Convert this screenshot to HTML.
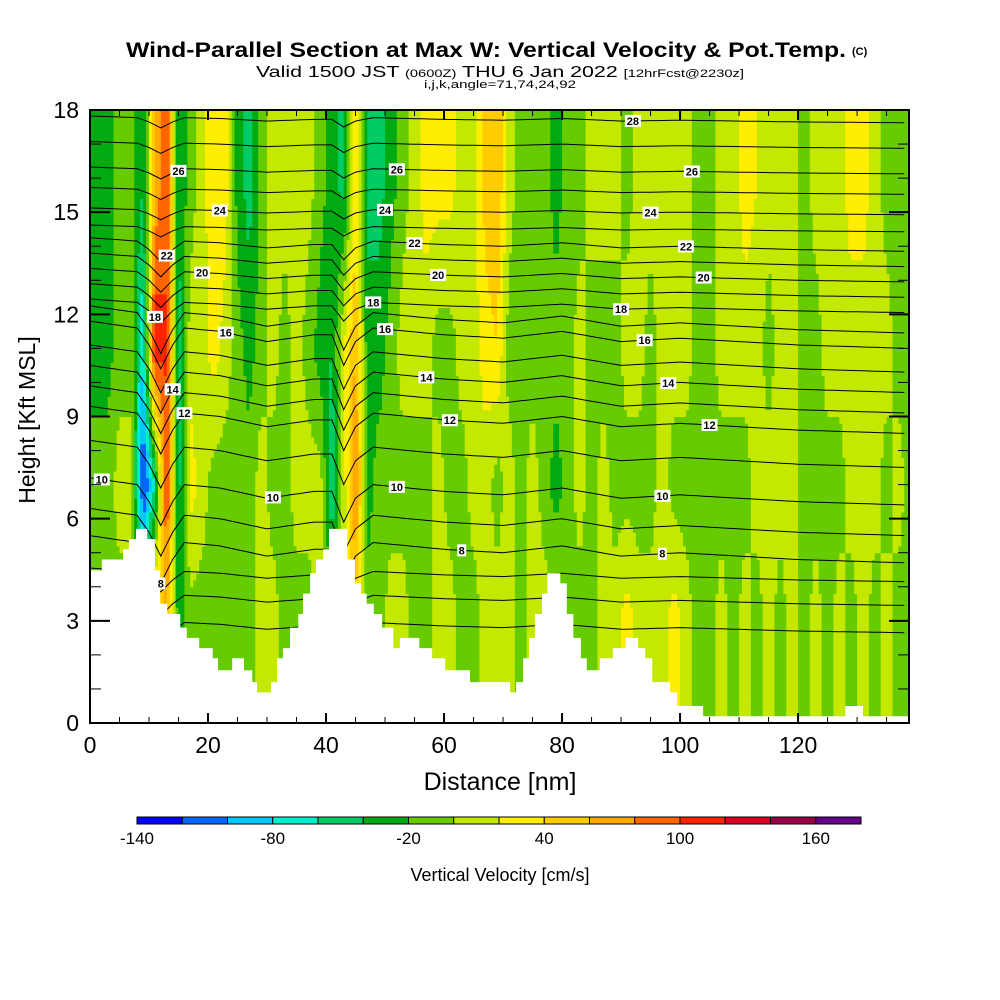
<!DOCTYPE html>
<html><head><meta charset="utf-8"><style>
html,body{margin:0;padding:0;background:#fff;}
svg{display:block;font-family:"Liberation Sans",sans-serif;}
</style></head><body>
<svg id="chart" width="1000" height="1000" viewBox="0 0 1000 1000" xmlns="http://www.w3.org/2000/svg">
<defs><clipPath id="plotclip"><rect x="90" y="110" width="819" height="613"/></clipPath></defs>
<text x="126" y="57" font-size="21" font-weight="bold" textLength="720" lengthAdjust="spacingAndGlyphs">Wind-Parallel Section at Max W: Vertical Velocity &amp; Pot.Temp.</text>
<text x="852" y="55" font-size="11" font-weight="bold">(C)</text>
<text x="256" y="77" font-size="16" textLength="488" lengthAdjust="spacingAndGlyphs">Valid 1500 JST <tspan font-size="11">(0600Z)</tspan> THU 6 Jan 2022 <tspan font-size="11">[12hrFcst@2230z]</tspan></text>
<text x="500" y="88" font-size="11" text-anchor="middle" textLength="152" lengthAdjust="spacingAndGlyphs">i,j,k,angle=71,74,24,92</text>
<g id="field" clip-path="url(#plotclip)"></g>
<g id="contours" clip-path="url(#plotclip)"></g>
<g id="terrain"></g>
<g id="labels" clip-path="url(#plotclip)"></g>
<g id="axes"></g>
<rect x="90" y="110" width="819" height="613" fill="none" stroke="#000" stroke-width="2"/>
<text x="500" y="790" font-size="25" text-anchor="middle">Distance [nm]</text>
<text x="0" y="0" font-size="23" text-anchor="middle" transform="translate(35,420) rotate(-90)">Height [Kft MSL]</text>
<g id="colorbar"></g>
<text x="500" y="881" font-size="18" text-anchor="middle">Vertical Velocity [cm/s]</text>
</svg>
<script>
// ---- data ----
const colorEdges = [-140,-120,-100,-80,-60,-40,-20,0,20,40,60,80,100,120,140,160,180];
const binColors = ["#0000ff","#0066ff","#00c8ff","#00eecc","#00cc66","#00aa11","#66cc00","#c4e800","#ffee00","#ffcc00","#ffaa00","#ff6600","#ff2200","#dd0022","#990044","#660088"];
const colorbarTicks = [-140,-80,-20,40,100,160];
const xTicks = [0,20,40,60,80,100,120];
const yTicks = [0,3,6,9,12,15,18];
const fieldLevels = [3,7,11,16];
const colCenters = [1,3,5,7,9,11,13,15,17,19,21,23,25,27,29,31,33,35,37,39,41,43,45,47,49,51,53,55,57,59,61,63,65,67,69,71,73,75,77,79,81,83,85,87,89,91,93,95,97,99,101,103,105,107,109,111,113,115,117,119,121,123,125,127,129,131,133,135,137,139];
const wLow3 =  [-10,-10,-10,-10,-10,60,60,-30,-10,-10,-10,-10,-10,-10,10,10,-10,-10,-10,10,-10,10,30,-10,-10,10,10,-10,-10,10,10,-10,-10,10,10,10,-10,10,10,10,-10,-10,-10,10,10,30,10,10,10,30,10,-10,-10,10,-10,10,-10,10,-10,10,-10,10,-10,10,-10,10,-10,10,-10,-10];
const wMid7 =  [-10,-10,10,10,-130,-60,110,-50,30,10,-10,-10,-10,-10,10,-10,-10,10,10,10,-60,10,90,-30,-10,-10,-10,-10,-10,10,-10,-10,10,10,-10,10,-10,10,-10,-30,-10,10,-10,10,-10,-10,-10,-10,10,-10,-10,-10,-10,-10,-10,-10,10,10,10,10,-10,-10,-10,-10,10,10,10,-10,10,-10];
const wUp11 =  [-30,-30,-10,-10,-80,120,100,-50,10,10,30,10,-10,-30,-10,10,-10,10,-10,-30,-40,20,60,-30,-30,-10,10,10,10,-10,-10,10,10,30,40,-10,-10,-10,-10,-10,-10,10,-10,-10,-10,10,10,-10,10,10,10,-10,-10,10,10,10,10,-10,10,10,-10,-10,10,10,10,10,10,10,-10,-10];
const wTop16 = [-30,-30,-10,-10,-40,60,100,-40,-10,10,40,30,-30,-50,-10,10,10,10,10,-10,-30,-50,30,-50,-50,-30,-10,10,30,30,30,10,10,50,60,10,-10,-10,-10,-30,-10,-10,10,10,10,-10,10,10,10,10,10,-10,-10,10,10,30,20,10,10,10,-10,10,10,10,30,30,10,-10,-10,-10];
const terrainX = [0,2.0,5.6,6.6,7.8,9.7,11.0,11.9,13.1,15.3,16.4,18.5,20.8,21.7,24.1,26.1,27.5,28.3,30.7,31.7,32.7,33.9,35.3,36.1,37.3,38.3,39.5,40.5,43.6,44.9,45.9,46.9,48.1,49.5,51.4,52.5,55.8,58.0,60.2,64.4,71.2,72.2,73.4,74.4,75.4,76.6,77.5,79.7,80.8,81.9,83.2,84.2,86.4,88.6,90.8,92.9,94.1,95.3,98.3,99.5,103.9,128.0,131.0];
const terrainH = [4.48,4.8,5.1,5.4,5.7,5.4,4.48,3.5,3.2,2.8,2.5,2.2,1.9,1.55,1.9,1.55,1.2,0.9,1.2,1.9,2.2,2.8,3.2,3.8,4.4,4.8,5.1,5.7,4.8,4.1,3.8,3.5,3.2,2.8,2.2,2.5,2.2,1.9,1.55,1.2,0.9,1.2,1.9,2.5,3.2,3.8,4.4,4.1,3.2,2.5,1.9,1.55,1.9,2.2,2.5,2.2,1.9,1.2,0.9,0.5,0.2,0.5,0.2];
const thetaLevels = [5,6,7,8,9,10,11,12,13,14,15,16,17,18,19,20,21,22,23,24,25,26,27,28,29];
const thetaHeights = [2.8,3.6,4.3,5.0,5.8,6.7,7.8,8.8,9.4,10.0,10.6,11.3,11.75,12.2,12.65,13.1,13.55,14.0,14.5,15.0,15.6,16.2,16.95,17.7,18.4];
const offsetX = [0,4,8,10,12,14,16,22,30,38,41,43,45,48,60,70,80,90,100,120,138.8];
const offsetH = [0.5,0.4,0.3,-0.2,-0.9,-0.2,0.3,0.2,-0.1,0.1,0.1,-0.8,-0.1,0.3,0.1,0.0,0.2,-0.1,0.0,-0.2,-0.3];
const labelTheta = [26,24,22,20,18,16,14,12,10,10,8,26,24,22,20,18,16,14,12,10,8,28,26,24,22,20,18,16,14,12,10,8];
const labelX =     [15,22,13,19,11,23,14,16,2,31,12,52,50,55,59,48,50,57,61,52,63,92,102,95,101,104,90,94,98,105,97,97];
const xMax = 138.8, yMax = 18;
// ---- helpers ----
const NS="http://www.w3.org/2000/svg";
const px = n => 90 + n*(819/xMax);
const py = k => 723 - k*(613/yMax);
function mk(tag, attrs, parent){const e=document.createElementNS(NS,tag);for(const k in attrs)e.setAttribute(k,attrs[k]);parent.appendChild(e);return e;}
function lerp(xs, ys, x){ if(x<=xs[0])return ys[0]; for(let i=1;i<xs.length;i++){ if(x<=xs[i]){const t=(x-xs[i-1])/(xs[i]-xs[i-1]);return ys[i-1]+t*(ys[i]-ys[i-1]);} } return ys[ys.length-1]; }
function binOf(v){ let b=Math.floor((v-colorEdges[0])/20); return Math.max(0,Math.min(binColors.length-1,b)); }
const levelRows=[wLow3,wMid7,wUp11,wTop16];
function wAt(x,k){ const lv=levelRows.map(r=>lerp(colCenters,r,x)); return lerp(fieldLevels,lv,k); }
// ---- field ----
const field=document.getElementById('field');
const dx=0.5, dk=0.2;
for(let k=0;k<yMax;k+=dk){
  let runStart=0, runBin=null;
  for(let x=0;x<=xMax+dx;x+=dx){
    const b = x<=xMax ? binOf(wAt(x+dx/2,k+dk/2)) : -1;
    if(runBin===null){runBin=b;runStart=x;continue;}
    if(b!==runBin){
      const r=mk('rect',{x:px(runStart).toFixed(2),y:py(k+dk).toFixed(2),width:(px(x)-px(runStart)+0.5).toFixed(2),height:(py(k)-py(k+dk)+0.5).toFixed(2),fill:binColors[runBin]},field);
      
      
      runBin=b;runStart=x;
    }
  }
}
// ---- contours ----
const cg=document.getElementById('contours');
function ampOf(t){ if(t<8) return 0.5; if(t<=17) return 1; if(t<=22) return 0.5; return 0.25; }
function thetaY(i,x){ return thetaHeights[i]+ampOf(thetaLevels[i])*lerp(offsetX,offsetH,x); }
thetaLevels.forEach((t,i)=>{
  let d='';
  for(let x=0;x<=xMax;x+=1){ d+=(x===0?'M':'L')+px(x).toFixed(1)+','+py(thetaY(i,x)).toFixed(1); }
  const p=mk('path',{d:d,fill:'none',stroke:'#000','stroke-width':1},cg);
  
  
});
// ---- terrain ----
const tg=document.getElementById('terrain');
let td='M'+px(0)+','+py(0);
terrainX.forEach((x,i)=>{ const x2 = i+1<terrainX.length?terrainX[i+1]:xMax; td+=' L'+px(x).toFixed(1)+','+py(terrainH[i]).toFixed(1)+' L'+px(x2).toFixed(1)+','+py(terrainH[i]).toFixed(1); });
td+=' L'+px(xMax)+','+py(0)+' Z';
const tp=mk('path',{d:td,fill:'#fff'},tg);


// ---- labels ----
const lg=document.getElementById('labels');
labelTheta.forEach((t,j)=>{
  const i=thetaLevels.indexOf(t); const x=labelX[j]; const y=py(thetaY(i,x));
  const w=t>=10?16:9;
  const r=mk('rect',{x:px(x)-w/2,y:y-6,width:w,height:12,fill:'#fff'},lg);
  
  
  const tx=mk('text',{x:px(x),y:y+4,'font-size':11,'text-anchor':'middle','font-weight':'bold'},lg);
  tx.textContent=t;
  
  
});
// ---- axes ----
const ag=document.getElementById('axes');
for(let k=0;k<=yMax;k+=1){
  const major=yTicks.includes(k); const L=major?20:11;
  mk('line',{x1:90,x2:90+L,y1:py(k),y2:py(k),stroke:'#000','stroke-width':major?2:1},ag);
  mk('line',{x1:909,x2:909-L,y1:py(k),y2:py(k),stroke:'#000','stroke-width':major?2:1},ag);
}
yTicks.forEach(k=>{
  const t=mk('text',{x:79,y:py(k)+8,'font-size':23,'text-anchor':'end'},ag); t.textContent=k;
  
  
});
for(let n=0;n<=xMax;n+=5){
  const major=n%20===0; const L=major?10:6;
  mk('line',{x1:px(n),x2:px(n),y1:723,y2:723-L,stroke:'#000','stroke-width':major?2:1},ag);
  mk('line',{x1:px(n),x2:px(n),y1:110,y2:110+L,stroke:'#000','stroke-width':major?2:1},ag);
}
xTicks.forEach(n=>{
  const t=mk('text',{x:px(n),y:753,'font-size':23,'text-anchor':'middle'},ag); t.textContent=n;
  
  
});
// ---- colorbar ----
const cb=document.getElementById('colorbar');
const cbx = v => 137 + (v-colorEdges[0])*(724/(colorEdges[colorEdges.length-1]-colorEdges[0]));
binColors.forEach((c,i)=>{
  const r=mk('rect',{x:cbx(colorEdges[i]),y:817,width:cbx(colorEdges[i+1])-cbx(colorEdges[i]),height:7,fill:c,stroke:'#000','stroke-width':1},cb);
  
  
});
colorbarTicks.forEach(v=>{
  const t=mk('text',{x:cbx(v),y:844,'font-size':17,'text-anchor':'middle'},cb); t.textContent=v;
  
  
});
</script>
</body></html>
